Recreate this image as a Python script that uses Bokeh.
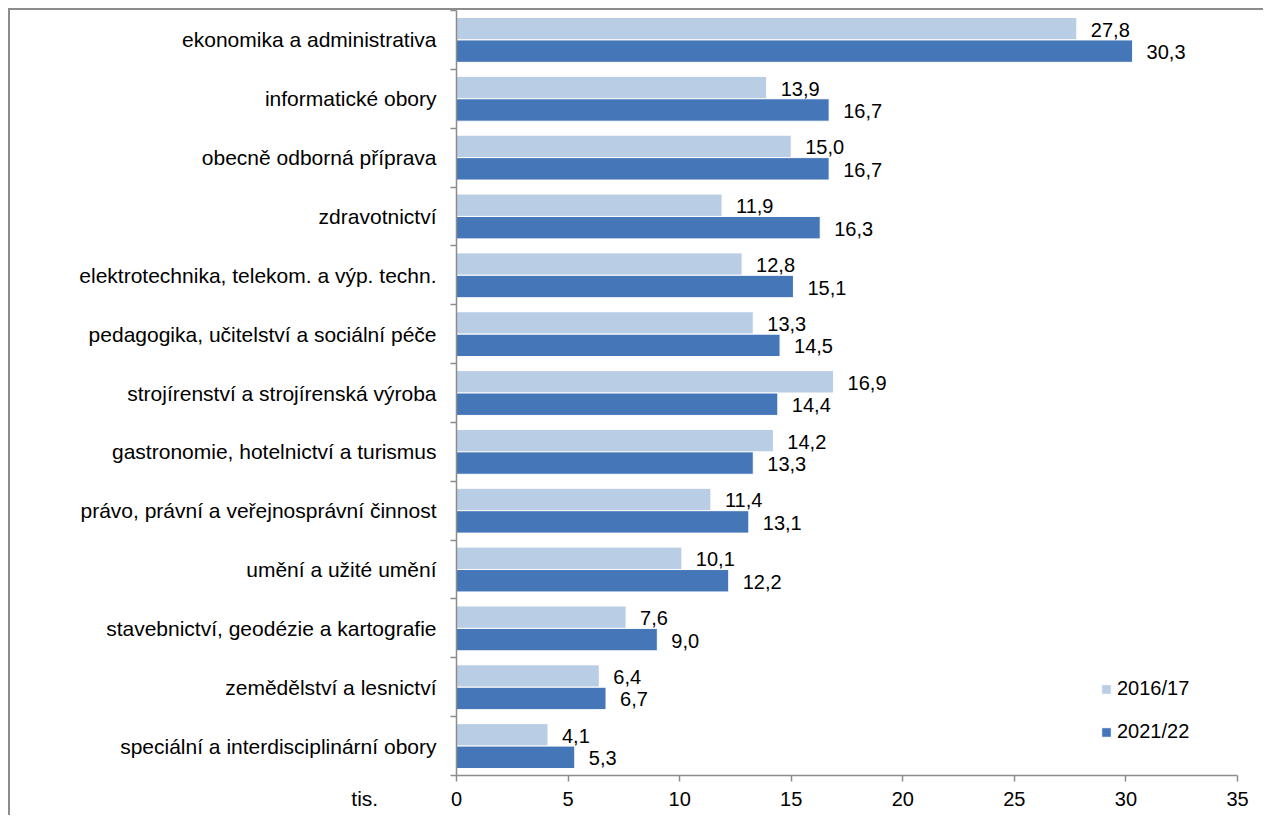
from bokeh.plotting import figure
from bokeh.models import (ColumnDataSource, Range1d, FixedTicker, LinearAxis,
                          Legend, LegendItem)
from bokeh.core.properties import value
from bokeh.embed import file_html
from bokeh.resources import INLINE

categories = [
    "ekonomika a administrativa",
    "informatické obory",
    "obecně odborná příprava",
    "zdravotnictví",
    "elektrotechnika, telekom. a výp. techn.",
    "pedagogika, učitelství a sociální péče",
    "strojírenství a strojírenská výroba",
    "gastronomie, hotelnictví a turismus",
    "právo, právní a veřejnosprávní činnost",
    "umění a užité umění",
    "stavebnictví, geodézie a kartografie",
    "zemědělství a lesnictví",
    "speciální a interdisciplinární obory",
]
series_names = ["2016/17", "2021/22"]
values_2016 = [27.8, 13.9, 15.0, 11.9, 12.8, 13.3, 16.9, 14.2, 11.4, 10.1, 7.6, 6.4, 4.1]
values_2021 = [30.3, 16.7, 16.7, 16.3, 15.1, 14.5, 14.4, 13.3, 13.1, 12.2, 9.0, 6.7, 5.3]
x_ticks = [0, 5, 10, 15, 20, 25, 30, 35]
unit_label = "tis."

FONT = "Liberation Sans"
LIGHT = "#B9CDE5"
DARK = "#4576B8"
AXIS = "#8C8C8C"

n = len(categories)
bar_h = 0.381
idx = list(range(n))

src_a = ColumnDataSource(dict(
    y=[i + 0.5 - bar_h / 2 for i in idx], v=values_2016,
    t=[f"{v:.1f}".replace(".", ",") for v in values_2016]))
src_b = ColumnDataSource(dict(
    y=[i + 0.5 + bar_h / 2 for i in idx], v=values_2021,
    t=[f"{v:.1f}".replace(".", ",") for v in values_2021]))

p = figure(width=1255, height=807, output_backend="svg", toolbar_location=None,
           x_range=Range1d(0, 35), y_range=Range1d(n, 0),
           x_axis_location=None, y_axis_location=None,
           min_border_left=446, min_border_right=28, min_border_top=0,
           min_border_bottom=42)
p.grid.visible = False
p.outline_line_color = None
p.background_fill_color = "white"
p.border_fill_color = "white"
# outer chart border (its right and bottom edges lie outside the picture)
p.styles = {"margin-left": "8px", "margin-top": "8px",
            "border-top": "2px solid #8C8C8C", "border-left": "2px solid #8C8C8C"}

ra = p.hbar(y="y", right="v", left=0, height=bar_h, source=src_a,
            fill_color=LIGHT, line_color="white", line_width=1)
rb = p.hbar(y="y", right="v", left=0, height=bar_h, source=src_b,
            fill_color=DARK, line_color="white", line_width=1)

for src in (src_a, src_b):
    p.text(x="v", y="y", text="t", source=src, x_offset=14, y_offset=1,
           text_baseline="middle", text_align="left",
           text_font=value(FONT), text_font_size="20px", text_color="black")

# x axis
xa = LinearAxis(ticker=FixedTicker(ticks=x_ticks, minor_ticks=[]))
xa.axis_line_color = AXIS
xa.axis_line_width = 1.5
xa.major_tick_line_color = AXIS
xa.major_tick_line_width = 1.5
xa.major_tick_in = 0
xa.major_tick_out = 6
xa.minor_tick_line_color = None
xa.major_label_standoff = 10
xa.major_label_text_font = FONT
xa.major_label_text_font_size = "20px"
xa.major_label_text_color = "black"
p.add_layout(xa, "below")

# y axis: labels at category centres, tick marks at boundaries,
# unit label "tis." hung under the last boundary (level with the x tick labels)
ya = LinearAxis(ticker=FixedTicker(ticks=[i + 0.5 for i in idx] + [n],
                                   minor_ticks=list(range(n + 1))))
overrides = {i + 0.5: c for i, c in enumerate(categories)}
overrides[n] = "\n\n" + unit_label + "\u00a0" * 10
ya.major_label_overrides = overrides
ya.axis_line_color = AXIS
ya.axis_line_width = 1.5
ya.major_tick_line_color = None
ya.major_tick_in = 0
ya.major_tick_out = 0
ya.minor_tick_line_color = AXIS
ya.minor_tick_line_width = 1.5
ya.minor_tick_in = 0
ya.minor_tick_out = 6
ya.major_label_standoff = 14
ya.major_label_text_font = FONT
ya.major_label_text_font_size = "21px"
ya.major_label_text_line_height = 1.0
ya.major_label_text_color = "black"
p.add_layout(ya, "left")

legend = Legend(items=[LegendItem(label=series_names[0], renderers=[ra]),
                       LegendItem(label=series_names[1], renderers=[rb])],
                location=(644, 32), orientation="vertical",
                glyph_width=12, glyph_height=12, label_height=20,
                label_standoff=5, spacing=20, padding=0, margin=0,
                border_line_color=None, background_fill_alpha=0,
                label_text_font=FONT, label_text_font_size="20px",
                label_text_color="black")
p.add_layout(legend)

open("out.html", "w").write(file_html(p, INLINE))
